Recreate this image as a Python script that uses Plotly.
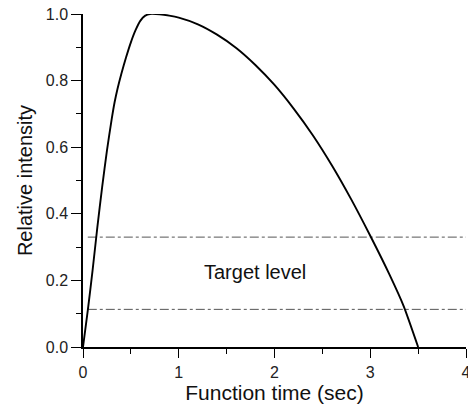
import plotly.graph_objects as go

# Relative intensity over function time
time_s = [0, 0.05, 0.10, 0.15, 0.20, 0.25, 0.30, 0.33, 0.36, 0.40, 0.45, 0.50, 0.55, 0.60, 0.65, 0.70,
          0.80, 0.90, 1.00, 1.20, 1.40, 1.60, 1.80, 2.00, 2.20, 2.40, 2.60, 2.80,
          3.00, 3.20, 3.35, 3.50]
intensity = [0, 0.11, 0.23, 0.36, 0.48, 0.59, 0.685, 0.735, 0.775, 0.82, 0.87, 0.915, 0.952, 0.980, 0.995, 1.0,
             0.999, 0.995, 0.989, 0.969, 0.938, 0.898, 0.847, 0.787, 0.716, 0.636, 0.545, 0.444,
             0.334, 0.218, 0.122, 0.0]

# Target level band limits
target_levels = [0.33, 0.113]
target_span = [0.05, 4.0]

font_family = "Liberation Sans, Arial, sans-serif"

fig = go.Figure()

for lvl in target_levels:
    fig.add_trace(go.Scatter(
        x=target_span, y=[lvl, lvl], mode="lines",
        line=dict(color="#555555", width=1, dash="dashdot"),
        hoverinfo="skip", showlegend=False,
    ))

fig.add_trace(go.Scatter(
    x=time_s, y=intensity, mode="lines",
    line=dict(color="black", width=1.9, shape="spline", smoothing=0.5),
    cliponaxis=False, showlegend=False,
))

fig.add_annotation(
    x=1.8, y=0.225, text="Target level", showarrow=False,
    font=dict(family=font_family, size=20, color="#111111"),
)

fig.update_layout(
    width=468, height=407,
    margin=dict(l=83, r=2, t=14, b=60),
    paper_bgcolor="white", plot_bgcolor="white",
    font=dict(family=font_family, size=16, color="#222222"),
    xaxis=dict(
        range=[0, 4], tickvals=[0, 1, 2, 3, 4], ticktext=["0", "1", "2", "3", "4"],
        ticks="outside", ticklen=9, tickwidth=1.3, tickcolor="black",
        minor=dict(dtick=0.5, ticks="outside", ticklen=5, tickwidth=1.1, tickcolor="black"),
        showline=True, linecolor="black", linewidth=1.5,
        showgrid=False, zeroline=False, automargin=False,
        ticklabeloverflow="allow", ticklabelstandoff=1,
        title=dict(text="Function time (sec)", standoff=2,
                   font=dict(family=font_family, size=21, color="#111111")),
        tickfont=dict(size=16),
    ),
    yaxis=dict(
        range=[0, 1.0], tickvals=[0, 0.2, 0.4, 0.6, 0.8, 1.0], tickformat=".1f",
        ticks="outside", ticklen=10, tickwidth=1.3, tickcolor="black",
        minor=dict(dtick=0.1, ticks="outside", ticklen=5, tickwidth=1.1, tickcolor="black"),
        showline=True, linecolor="black", linewidth=1.5,
        showgrid=False, zeroline=False, automargin=False,
        title=dict(text="Relative intensity", standoff=8,
                   font=dict(family=font_family, size=20, color="#111111")),
        tickfont=dict(size=16),
    ),
)

fig.write_html("out.html")
